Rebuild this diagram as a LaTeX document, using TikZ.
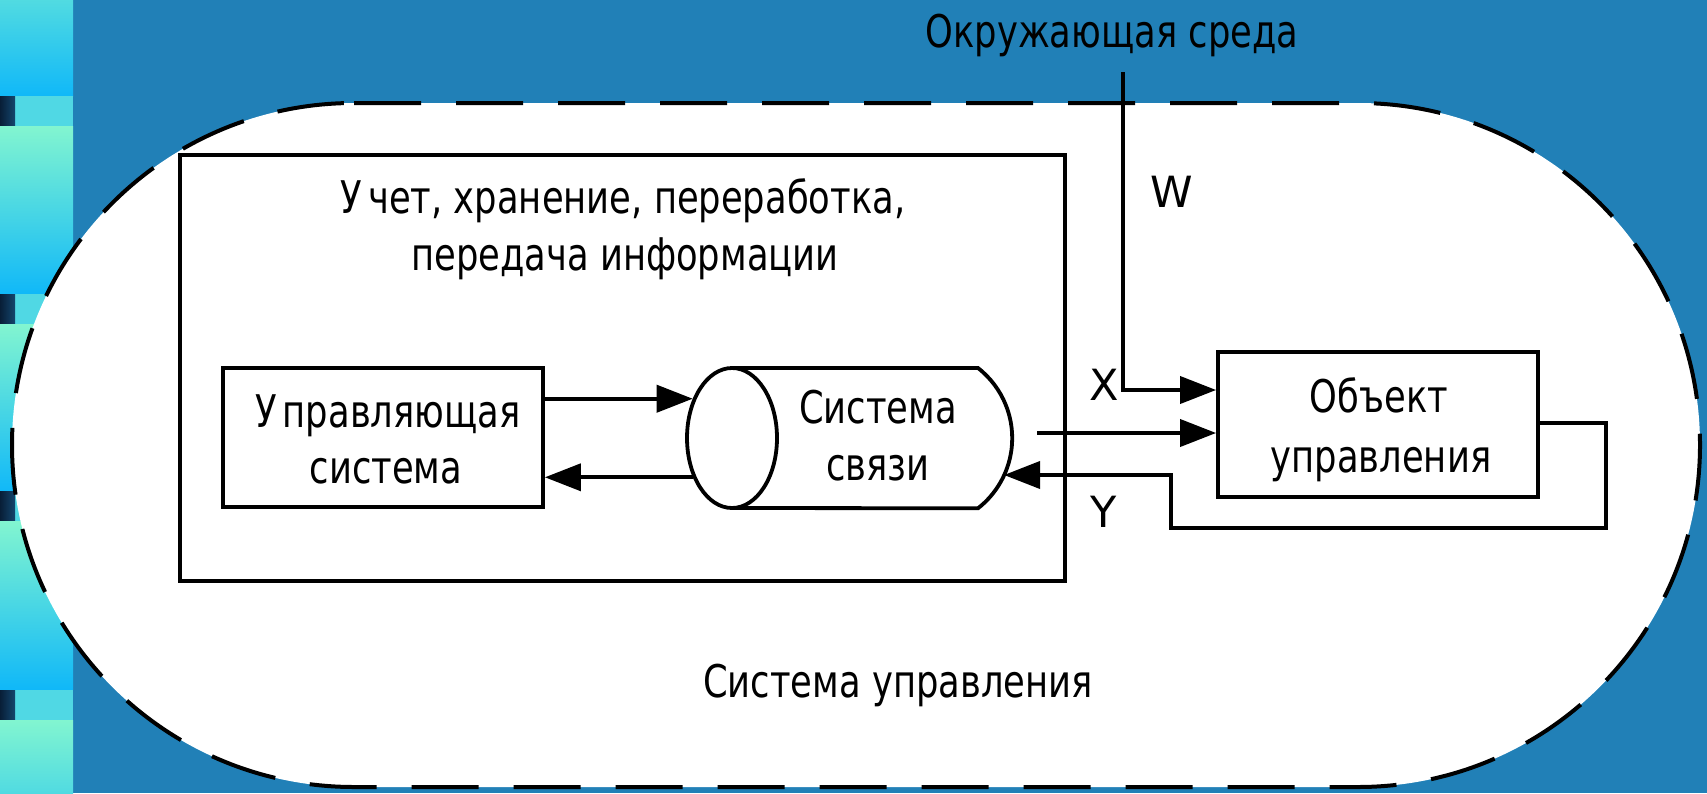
\documentclass[tikz,border=0pt]{standalone}
\usepackage{fontspec}
\setmainfont{DejaVu Sans}
\newfontfamily\nf[FakeStretch=0.785]{DejaVu Sans}
\usetikzlibrary{arrows.meta,shapes.geometric}
\definecolor{bgblue}{RGB}{33,128,183}
\definecolor{mint}{RGB}{130,245,208}
\definecolor{cyanblue}{RGB}{16,184,248}
\definecolor{lightcyan}{RGB}{80,216,228}
\definecolor{darknavy}{RGB}{8,30,55}
\definecolor{navy}{RGB}{20,70,110}
\begin{document}
\begin{tikzpicture}[x=1pt,y=-1pt,
  txt/.style={font=\nf\fontsize{45}{50}\selectfont, inner sep=0pt, anchor=base},
  lbl/.style={font=\fontsize{43}{50}\selectfont, inner sep=0pt, anchor=base},
  box/.style={draw, line width=3.8pt, fill=white, inner sep=0pt},
  ln/.style={line width=3.8pt},
  arr/.style={line width=3.8pt, -{Triangle[length=36pt,width=27pt]}}]
\useasboundingbox (0,0) rectangle (1707,793);
% background
\fill[bgblue] (0,0) rectangle (1707,793);
\begin{scope}
\clip (0,0) rectangle (1707,793);
\shade[top color=mint, bottom color=cyanblue] (0,-72) rectangle (73,96);
\foreach \y in {96,294,491,690} {
  \fill[lightcyan] (15,\y) rectangle (73,\y+30);
  \shade[left color=darknavy, right color=navy] (0,\y) rectangle (15,\y+30);
  \shade[top color=mint, bottom color=cyanblue] (0,\y+30) rectangle (73,\y+198);
}
\end{scope}
% system boundary
\draw[line width=4pt, dash pattern=on 67pt off 35pt, fill=white]
  (354,103) -- (1358,103) arc[start angle=-90, end angle=90, radius=342]
  -- (354,787) arc[start angle=90, end angle=270, radius=342] -- cycle;
% boxes
\node[box, minimum width=885pt, minimum height=426pt] (big) at (622.5,368) {};
\node[box, minimum width=320pt, minimum height=139pt] (ctrl) at (383,437.5) {};
\node[box, minimum width=320pt, minimum height=145pt] (obj) at (1378,424.5) {};
% cylinder
\draw[ln, fill=white] (732,368) -- (978,368) arc[start angle=-52, end angle=52, radius=89] -- (732,508) -- cycle;
\node[draw, line width=3.8pt, fill=white, ellipse, inner sep=0pt, minimum width=90pt, minimum height=140pt] (cylE) at (732,438) {};
\coordinate (cylR) at (1004,475);
\coordinate (cylout) at (1037,433);
\coordinate (wtop) at (1123,72);
% texts
\node[txt] (t1) at (623,213) {У\kern6pt чет, хранение, переработка,};
\node[txt] (t2) at (625,270) {передача информации};
\node[txt] (c1) at (388,427) {У\kern6pt правляющая};
\node[txt] (c2) at (386,483) {система};
\node[txt] (s1) at (878,423) {Система};
\node[txt] (s2) at (878,480) {связи};
\node[txt] (o1) at (1379,412) {Объект};
\node[txt] (o2) at (1381,472) {управления};
\node[txt] (env) at (1112,47) {Окружающая среда};
\node[txt] (su) at (898,697) {Система управления};
\node[lbl] (lw) at (1172,207) {W};
\node[lbl] (lx) at (1104,400) {X};
\node[lbl] (ly) at (1104,527) {Y};
% connectors
\draw[arr] (ctrl.east |- cylE.135) -- (cylE.135);
\draw[arr] (cylE.225) -- (ctrl.east |- cylE.225);
\draw[arr] (wtop) |- ([yshift=34.5pt]obj.west);
\draw[arr] (cylout) -- ([yshift=-8.5pt]obj.west);
\draw[arr] ([yshift=1.5pt]obj.east) -| (1606,528) -| (1171,475) -- (cylR);
\end{tikzpicture}
\end{document}
